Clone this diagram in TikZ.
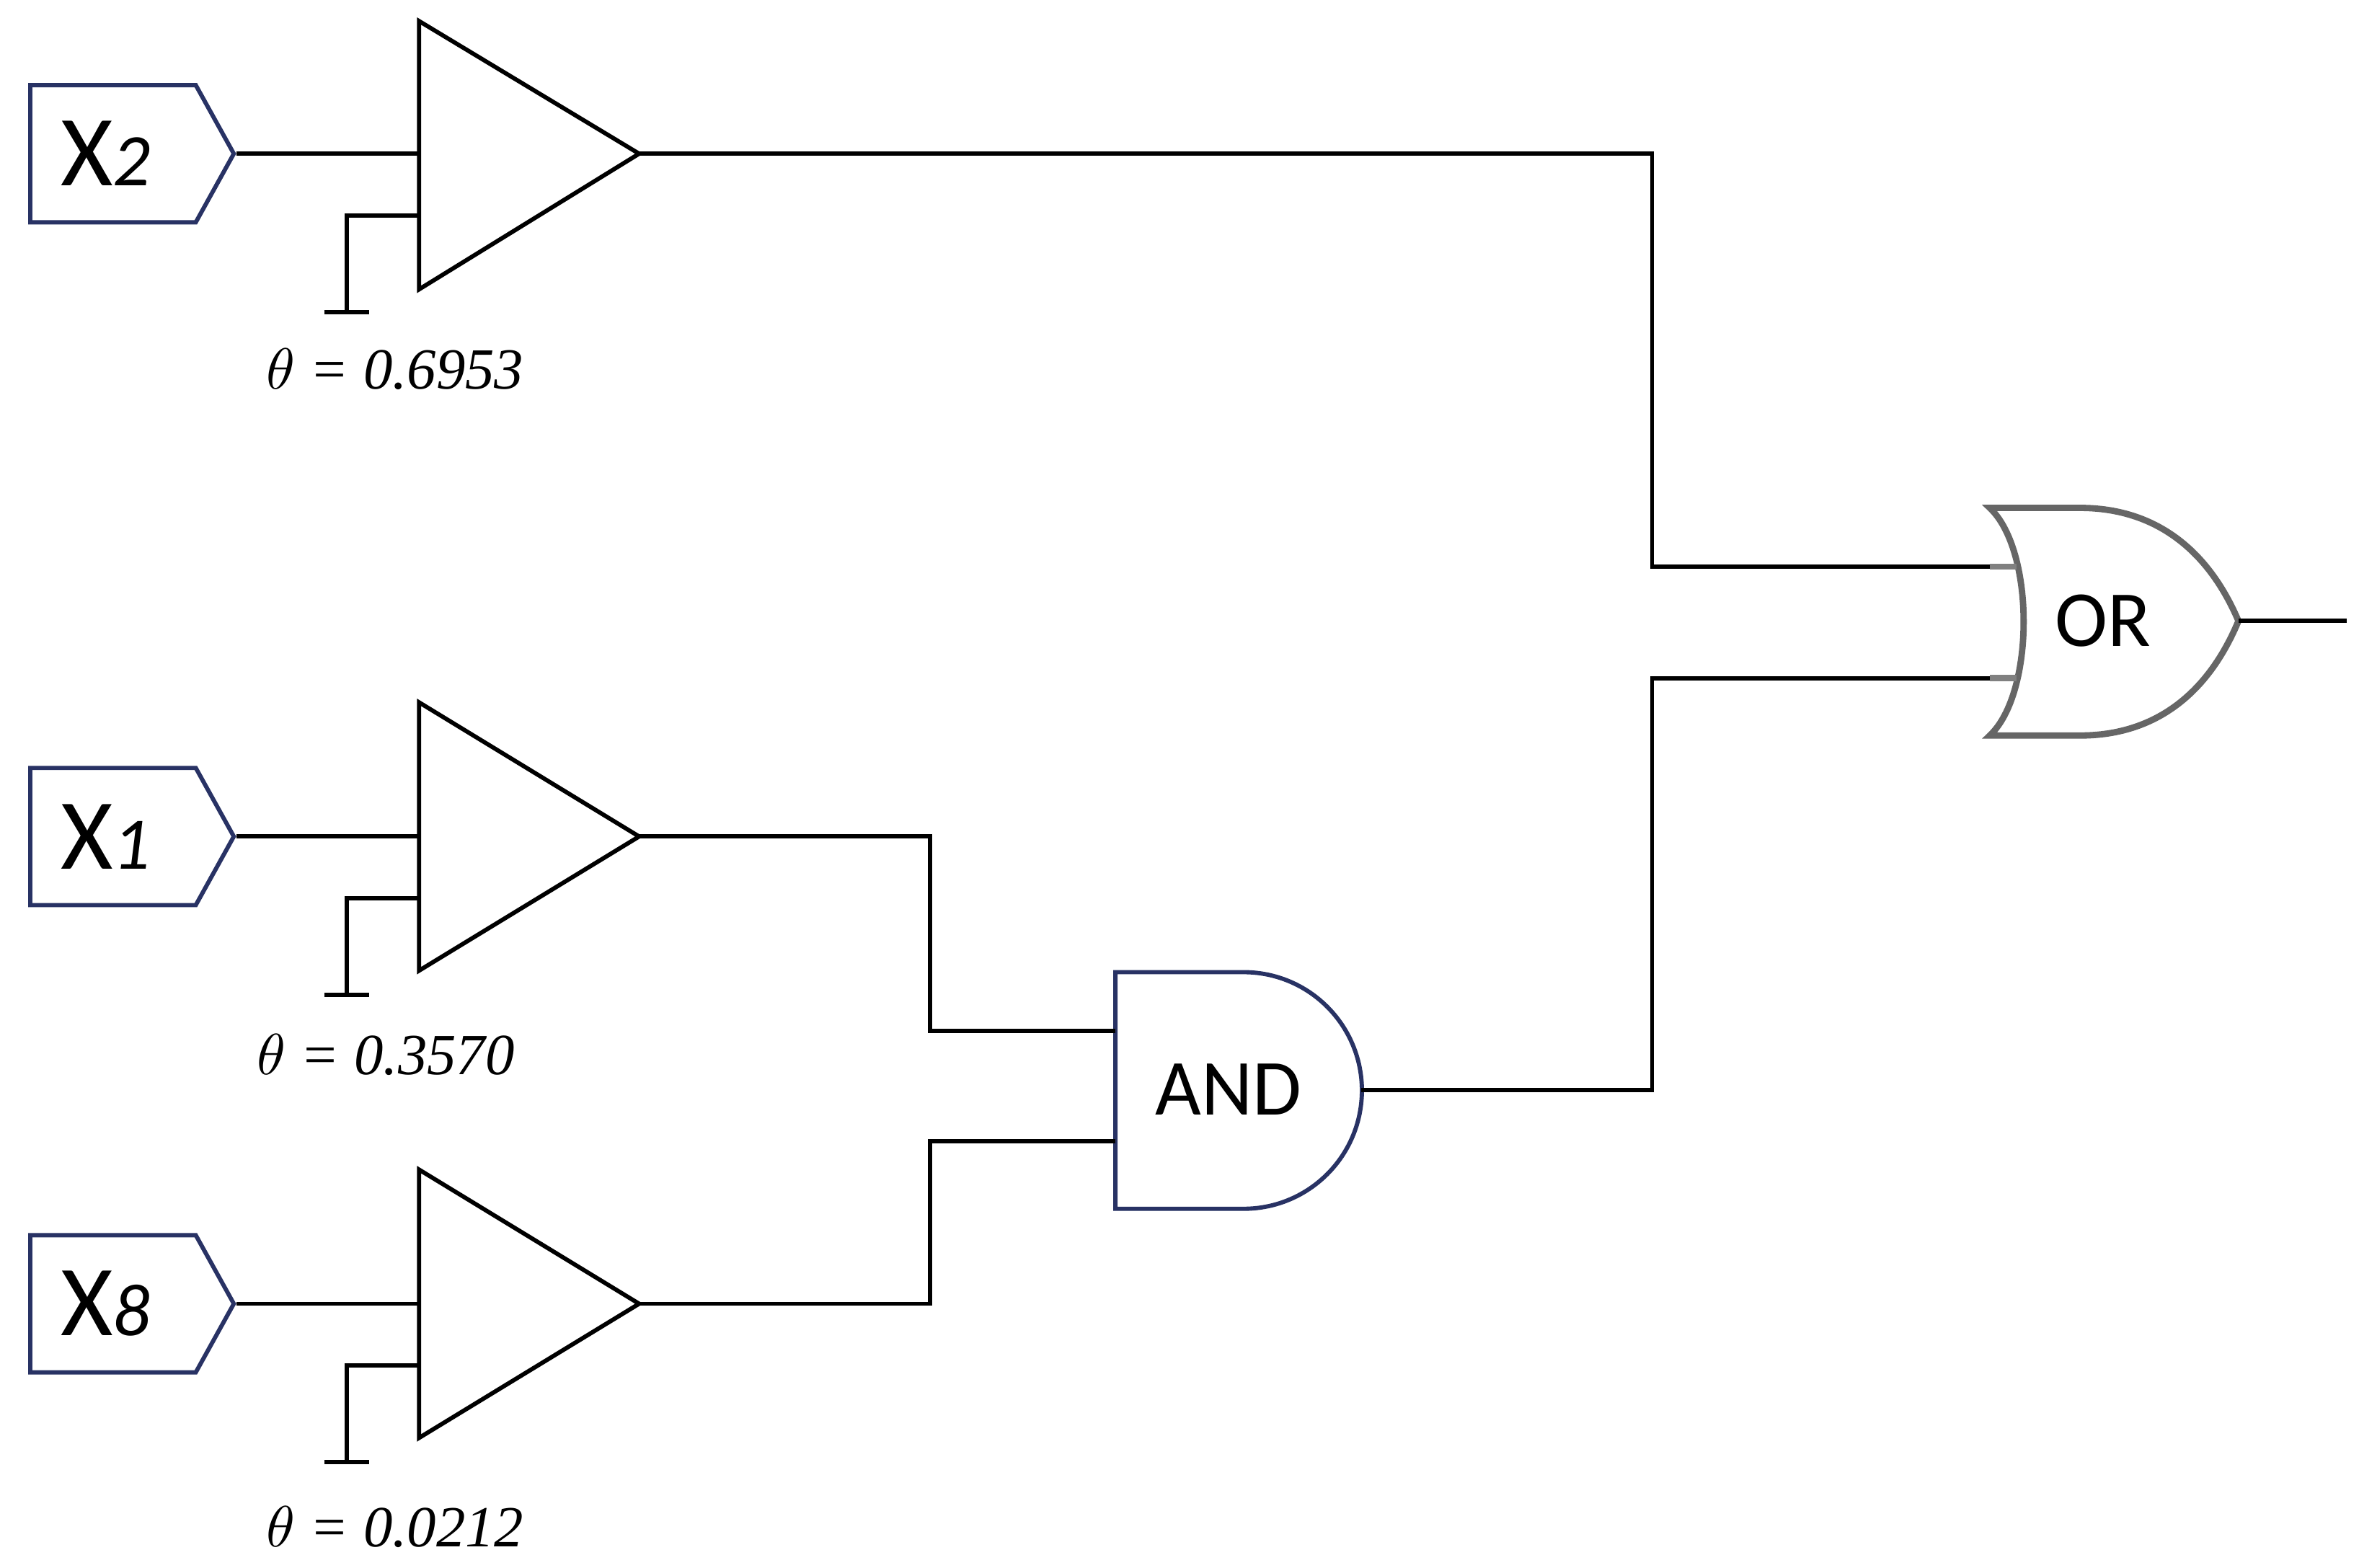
\documentclass[tikz,border=0pt]{standalone}
\usepackage{fontspec}
\setmainfont{Liberation Serif}
\newfontfamily\gatefont{Carlito}
\usetikzlibrary{shapes.symbols, positioning, calc}
\definecolor{boxblue}{RGB}{40, 50, 100}

\begin{document}
\begin{tikzpicture}[
        inbox/.style={signal, signal to=east, draw=boxblue, thick, minimum width=1.35cm, minimum height=0.91cm, signal pointer angle=122, inner sep=0pt},
        wire/.style={thick},
        amp/.style={thick},
        thetalabel/.style={font=\fontsize{11}{13}\selectfont\itshape}
    ]
        \useasboundingbox (0,0) rectangle (15.65,10.40);

        % Inputs
        \node[inbox] (x2) at (0.75,9.38) {};
        \node[font=\gatefont] at ($(x2)+(-0.05,0)$) {\fontsize{19}{20}\selectfont X\fontsize{14}{16}\selectfont\itshape 2};
        \node[inbox] (x1) at (0.75,4.85) {};
        \node[font=\gatefont] at ($(x1)+(-0.05,0)$) {\fontsize{19}{20}\selectfont X\fontsize{14}{16}\selectfont\itshape 1};
        \node[inbox] (x8) at (0.75,1.75) {};
        \node[font=\gatefont] at ($(x8)+(-0.05,0)$) {\fontsize{19}{20}\selectfont X\fontsize{14}{16}\selectfont\itshape 8};

        % Amplifier 2
        \coordinate (a2in) at (2.78,9.38);
        \coordinate (a2out) at (4.24,9.38);
        \coordinate (a2th) at (2.78,8.97);
        \coordinate (g2) at (2.30,8.33);
        \draw[amp] (2.78,10.26) -- (a2out) -- (2.78,8.48) -- cycle;
        \draw[wire] (a2th) -| (g2);
        \draw[wire] ($(g2)+(-0.15,0)$) -- ($(g2)+(0.15,0)$);
        \node[thetalabel] (t2) at (2.62,7.95) {$\theta$ = 0.6953};

        % Amplifier 1
        \coordinate (a1in) at (2.78,4.85);
        \coordinate (a1out) at (4.24,4.85);
        \coordinate (a1th) at (2.78,4.44);
        \coordinate (g1) at (2.30,3.80);
        \draw[amp] (2.78,5.74) -- (a1out) -- (2.78,3.96) -- cycle;
        \draw[wire] (a1th) -| (g1);
        \draw[wire] ($(g1)+(-0.15,0)$) -- ($(g1)+(0.15,0)$);
        \node[thetalabel] (t1) at (2.56,3.40) {$\theta$ = 0.3570};

        % Amplifier 8
        \coordinate (a8in) at (2.78,1.75);
        \coordinate (a8out) at (4.24,1.75);
        \coordinate (a8th) at (2.78,1.34);
        \coordinate (g8) at (2.30,0.70);
        \draw[amp] (2.78,2.64) -- (a8out) -- (2.78,0.86) -- cycle;
        \draw[wire] (a8th) -| (g8);
        \draw[wire] ($(g8)+(-0.15,0)$) -- ($(g8)+(0.15,0)$);
        \node[thetalabel] (t8) at (2.62,0.27) {$\theta$ = 0.0212};

        % AND gate
        \coordinate (and1) at (7.40,3.56);
        \coordinate (and2) at (7.40,2.83);
        \coordinate (andout) at (9.03,3.17);
        \draw[boxblue, thick] (8.25,3.95) -- (7.40,3.95) -- (7.40,2.38) -- (8.25,2.38)
            arc[start angle=-90, end angle=90, radius=0.785];
        \node[font=\gatefont\fontsize{15}{16}\selectfont] (and) at (8.15,3.17) {AND};

        % OR gate
        \coordinate (or1) at (13.20,6.64);
        \coordinate (or2) at (13.20,5.90);
        \coordinate (orout) at (14.85,6.28);
        \coordinate (orend) at (15.57,6.28);
        \draw[gray!80!black, very thick] (13.20,7.03) .. controls (13.50,6.75) and (13.50,5.80) .. (13.20,5.52)
            -- (13.80,5.52) .. controls (14.30,5.52) and (14.65,5.80) .. (orout)
            .. controls (14.65,6.75) and (14.30,7.03) .. (13.80,7.03) -- cycle;
        \draw[gray, very thick] (or1) -- ++(0.18,0);
        \draw[gray, very thick] (or2) -- ++(0.18,0);
        \node[font=\gatefont\fontsize{15}{16}\selectfont] (or) at (13.95,6.28) {OR};

        % Wires
        \draw[wire] (x2.east) -- (a2in);
        \draw[wire] (x1.east) -- (a1in);
        \draw[wire] (x8.east) -- (a8in);
        \draw[wire] (a2out) -- (10.96,9.38) |- (or1);
        \draw[wire] (a1out) -- (6.17,4.85) |- (and1);
        \draw[wire] (a8out) -- (6.17,1.75) |- (and2);
        \draw[wire] (andout) -- (10.96,3.17) |- (or2);
        \draw[wire] (orout) -- (orend);
    \end{tikzpicture}
\end{document}
